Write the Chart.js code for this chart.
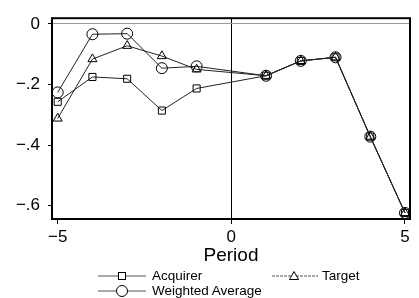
<!DOCTYPE html>
<html><head><meta charset="utf-8">
<script src="https://cdn.jsdelivr.net/npm/chart.js@4/dist/chart.umd.min.js"></script>
<style>
html,body{margin:0;padding:0;background:#fff;}
#wrap{position:relative;width:419px;height:298px;}
#c{position:absolute;left:0;top:0;}
.lg{position:absolute;font-family:"Liberation Sans",Arial,sans-serif;font-size:13.5px;color:#000;line-height:14px;white-space:nowrap;}
.sym{position:absolute;}
</style></head>
<body>
<div id="wrap">
<canvas id="c" width="419" height="298"></canvas>
<svg class="sym" style="left:96px;top:268px" width="54" height="30">
  <line x1="2" y1="8" x2="50" y2="8" stroke="#555" stroke-width="1"/>
  <rect x="22.5" y="4.5" width="7" height="7" fill="#fff" stroke="#000" stroke-width="1"/>
  <line x1="2" y1="23" x2="50" y2="23" stroke="#555" stroke-width="1"/>
  <circle cx="26" cy="23" r="5.5" fill="#fff" stroke="#000" stroke-width="1"/>
</svg>
<div class="lg" style="left:152px;top:269px">Acquirer</div>
<div class="lg" style="left:152px;top:284px">Weighted Average</div>
<svg class="sym" style="left:270px;top:268px" width="50" height="16">
  <line x1="2" y1="8" x2="48" y2="8" stroke="#555" stroke-width="1" stroke-dasharray="3,1"/>
  <polygon points="24,3.5 28.5,11.5 19.5,11.5" fill="#fff" stroke="#000" stroke-width="1"/>
</svg>
<div class="lg" style="left:322px;top:269px">Target</div>
</div>
<script>
const periods = [-5, -4, -3, -2, -1, 1, 2, 3, 4, 5];
const acquirer = [-0.257, -0.175, -0.181, -0.286, -0.213, -0.171, -0.122, -0.110, -0.372, -0.624];
const target = [-0.312, -0.116, -0.072, -0.106, -0.150, -0.171, -0.122, -0.110, -0.372, -0.624];
const weightedAverage = [-0.226, -0.034, -0.032, -0.146, -0.140, -0.171, -0.122, -0.110, -0.372, -0.624];
const xTicks = [-5, 0, 5];
const yTicks = [-0.6, -0.4, -0.2, 0];

const pts = arr => periods.map((p, i) => ({x: p, y: arr[i]}));
const FONT = '"Liberation Sans", Arial, sans-serif';
const fmt = v => {
  if (Math.abs(v) < 1e-9) return '0';
  const s = Math.abs(v).toFixed(1).replace(/\.0$/, '').replace(/^0\./, '.');
  return (v < 0 ? '\u2212' : '') + s;
};

const frame = {
  id: 'frame',
  afterDraw(chart) {
    const {ctx, chartArea: a} = chart;
    ctx.save();
    ctx.strokeStyle = '#000';
    ctx.lineWidth = 2;
    ctx.strokeRect(a.left, a.top, a.right - a.left, a.bottom - a.top);
    ctx.restore();
  }
};

const ds = (label, data, style, r) => ({
  label, data: pts(data), borderColor: '#222', borderWidth: 1,
  pointStyle: style, pointRadius: r, pointHoverRadius: r,
  pointBackgroundColor: 'rgba(255,255,255,0)', pointBorderColor: '#000', pointBorderWidth: 1,
  tension: 0, fill: false
});

new Chart(document.getElementById('c'), {
  type: 'line',
  data: {
    datasets: [
      ds('Acquirer', acquirer, 'rect', 5),
      ds('Target', target, 'triangle', 5.2),
      ds('Weighted Average', weightedAverage, 'circle', 5.5)
    ]
  },
  options: {
    responsive: false, animation: false,
    layout: {padding: {top: 10, right: 9, left: 0, bottom: 0}},
    plugins: {legend: {display: false}, tooltip: {enabled: false}},
    scales: {
      x: {
        type: 'linear', min: -5.164, max: 5.144,
        afterBuildTicks: s => { s.ticks = xTicks.map(v => ({value: v})); },
        afterFit: s => { s.height = 79; },
        grid: {
          drawOnChartArea: true, drawTicks: true, tickLength: 5, tickColor: '#000',
          color: c => (c.tick && c.tick.value === 0) ? '#000' : 'rgba(0,0,0,0)', lineWidth: 1
        },
        border: {display: false},
        ticks: {callback: v => fmt(v), color: '#000', font: {family: FONT, size: 17}, padding: 3, maxRotation: 0},
        title: {display: true, text: 'Period', color: '#000', font: {family: FONT, size: 19}, padding: {top: 0, bottom: 31}}
      },
      y: {
        min: -0.644, max: 0.019,
        afterBuildTicks: s => { s.ticks = yTicks.map(v => ({value: v})); },
        afterFit: s => { s.width = 52; },
        grid: {
          drawOnChartArea: true, drawTicks: true, tickLength: 4, tickColor: '#000',
          color: c => (c.tick && c.tick.value === 0) ? '#999' : 'rgba(0,0,0,0)', lineWidth: 1
        },
        border: {display: false},
        ticks: {callback: v => fmt(v), color: '#000', font: {family: FONT, size: 17}, padding: 8}
      }
    }
  },
  plugins: [frame]
});
</script>
</body></html>
